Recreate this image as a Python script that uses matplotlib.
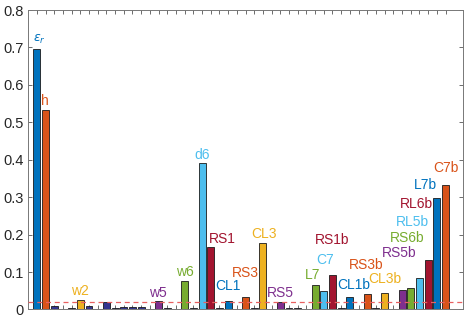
import matplotlib.pyplot as plt
import numpy as np

plt.rcParams['font.family'] = ['Liberation Sans', 'DejaVu Sans']
plt.rcParams['mathtext.fontset'] = 'dejavusans'

# parameter names (only the ones above the threshold get a label)
names = ['$\\epsilon_r$', 'h',
         'w1', 's1', 'd1', 'w2', 's2', 'd2', 'w3', 's3', 'd3',
         'w4', 's4', 'd4', 'w5', 's5', 'd5', 'w6', 's6', 'd6',
         'RS1', 'RS2', 'CL1', 'CL2', 'RS3', 'RS4', 'CL3', 'CL4',
         'RS5', 'RS6', 'RL5', 'RL6', 'L7', 'C7',
         'RS1b', 'RS2b', 'CL1b', 'CL2b', 'RS3b', 'RS4b', 'CL3b', 'CL4b',
         'RS5b', 'RS6b', 'RL5b', 'RL6b', 'L7b', 'C7b']

values = [0.697, 0.532,
          0.009, 0.002, 0.004, 0.026, 0.008, 0.002, 0.019, 0.003, 0.007,
          0.007, 0.006, 0.002, 0.023, 0.005, 0.002, 0.075, 0.004, 0.390,
          0.1665, 0.003, 0.022, 0.002, 0.032, 0.003, 0.177, 0.002,
          0.021, 0.003, 0.005, 0.002, 0.0646, 0.0487,
          0.093, 0.004, 0.0335, 0.002, 0.040, 0.003, 0.043, 0.002,
          0.052, 0.057, 0.083, 0.131, 0.298, 0.332]

threshold = 0.02

# label nudges (dx, dy) in data units, relative to bar centre / bar top
label_offsets = {
    '$\\epsilon_r$': (0.25, 0.008), 'h': (-0.05, 0.005), 'w2': (-0.05, 0.004),
    'w5': (-0.1, 0.003), 'w6': (0.0, 0.007), 'd6': (0.0, 0.003),
    'RS1': (1.3, 0.004), 'CL1': (0.0, 0.021), 'RS3': (0.0, 0.046),
    'CL3': (0.1, 0.007), 'RS5': (0.0, 0.004), 'L7': (-0.3, 0.008),
    'C7': (0.1, 0.064), 'RS1b': (0.0, 0.074), 'CL1b': (0.5, 0.013),
    'RS3b': (-0.1, 0.060), 'CL3b': (0.0, 0.020), 'RS5b': (-0.3, 0.079),
    'RS6b': (-0.4, 0.114), 'RL5b': (-0.8, 0.132), 'RL6b': (-1.3, 0.131),
    'L7b': (-1.3, 0.015), 'C7b': (0.1, 0.028),
}

matlab_colors = ['#0072BD', '#D95319', '#EDB120', '#7E2F8E',
                 '#77AC30', '#4DBEEE', '#A2142F']
low_color = '#34358f'

x = np.arange(1, len(values) + 1)
colors = []
k = 0
for v in values:
    if v > threshold:
        colors.append(matlab_colors[k % 7])
        k += 1
    else:
        colors.append(low_color)

fig = plt.figure(figsize=(4.69, 3.23), dpi=100)
ax = fig.add_axes([0.060, 0.042, 0.927, 0.927])

ax.bar(x, values, width=0.8, color=colors, edgecolor='#1a1a1a', linewidth=0.6, zorder=2)
ax.axhline(threshold, color='#e86060', linestyle=(0, (4, 3)), linewidth=0.9, zorder=3)

for xi, v, name, c in zip(x, values, names, colors):
    if v > threshold:
        dx, dy = label_offsets.get(name, (0, 0.005))
        fs = 9 if name.startswith('$') else 10
        ax.text(xi + dx, v + dy, name, color=c, fontsize=fs,
                ha='center', va='bottom')

ax.set_xlim(0, len(values) + 2)
ax.set_ylim(0, 0.8)
ax.set_yticks(np.arange(0, 0.81, 0.1))
ax.set_yticklabels(['0', '0.1', '0.2', '0.3', '0.4', '0.5', '0.6', '0.7', '0.8'])
ax.set_xticks(x)
ax.set_xticklabels([])
ax.tick_params(direction='in', top=True, right=True, length=3, width=0.6,
               colors='#555555', labelcolor='#262626', labelsize=10.5, pad=3)
for s in ax.spines.values():
    s.set_color('#777777')
    s.set_linewidth(0.7)

plt.savefig('out.png', dpi=100)
